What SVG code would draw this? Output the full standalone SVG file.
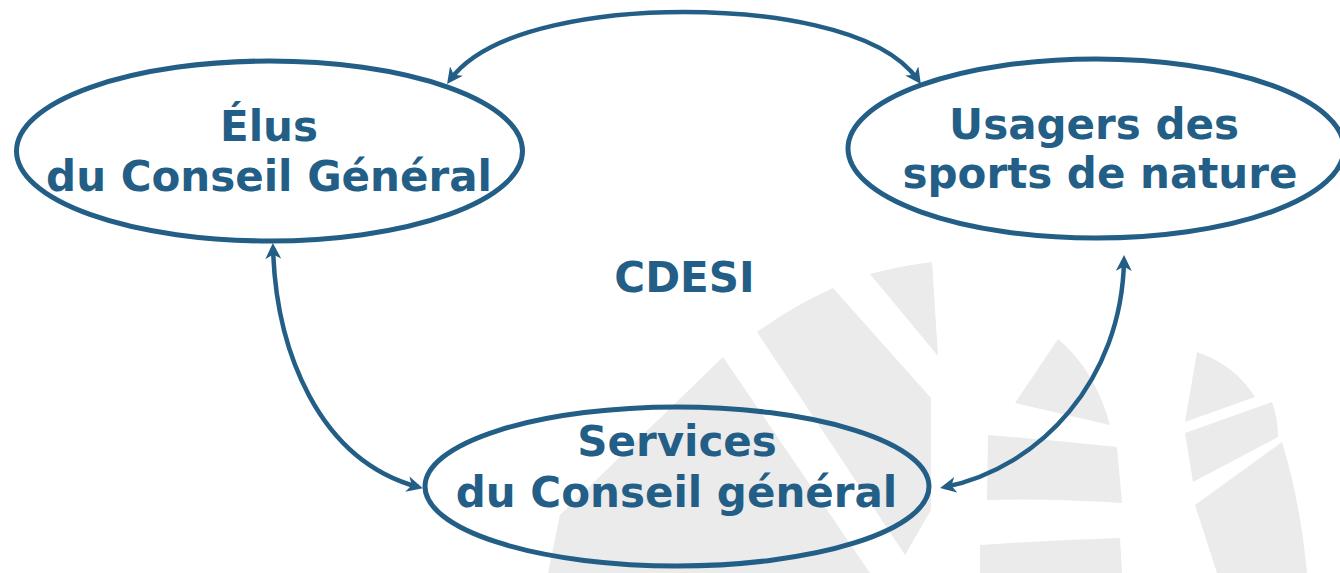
<svg xmlns="http://www.w3.org/2000/svg" width="1340" height="573" viewBox="0 0 1340 573">
<style>
.node ellipse{fill:none;stroke:#225e86;stroke-width:5}
.node text{font-family:"DejaVu Sans",Verdana,sans-serif;font-weight:bold;font-size:42px;fill:#225e86;text-anchor:middle}
.conn path{fill:none;stroke:#225e86;stroke-width:4.5;marker-start:url(#ah);marker-end:url(#ah)}
.wm{fill:#ebebeb;stroke:none}
</style>
<defs>
<marker id="ah" viewBox="0 0 16 16" markerWidth="16" markerHeight="16" refX="11" refY="8" orient="auto-start-reverse" markerUnits="userSpaceOnUse">
<path d="M0,0 L16,8 L0,16 L4.5,8 Z" fill="#225e86"/>
</marker>
</defs>
<rect width="1340" height="573" fill="#ffffff"/>
<g id="watermark">
<path class="wm" d="M870,274 Q900,266 932,262 L938,356 Z"/>
<path class="wm" d="M757,332 Q793,306 833,288 L931,398 L931,510 L905,555 Z"/>
<path class="wm" d="M723,357 L870,573 L548,573 L560,515 Z"/>
<path class="wm" d="M1058,339 Q1095,370 1110,425 L1015,403 Z"/>
<path class="wm" d="M988,435 Q1050,440 1117,447 L1122,503 Q1050,498 987,500 Z"/>
<path class="wm" d="M980,545 Q1050,540 1120,538 L1122,573 L980,573 Z"/>
<path class="wm" d="M1197,352 Q1235,365 1255,397 L1185,422 Z"/>
<path class="wm" d="M1185,433 L1272,402 Q1278,418 1278,437 L1193,482 Z"/>
<path class="wm" d="M1195,505 L1282,442 Q1300,500 1307,573 L1217,573 Z"/>
</g>
<g id="connectors" class="conn">
<path d="M450,80 C490,25 610,12 684,12 C760,12 880,25 918,80"/>
<path d="M273,248 C276,350 318,460 418,487"/>
<path d="M1124,260 C1122,380 1040,468 945,487"/>
</g>
<g id="elus" class="node">
<ellipse cx="269.5" cy="151" rx="253" ry="90"/>
<text x="269" y="141">Élus</text>
<text x="269" y="191">du Conseil Général</text>
</g>
<g id="usagers" class="node">
<ellipse cx="1096" cy="148.5" rx="248" ry="89.5"/>
<text x="1094" y="139">Usagers des</text>
<text x="1100" y="188">sports de nature</text>
</g>
<g id="services" class="node">
<ellipse cx="677" cy="486.5" rx="252" ry="79.5"/>
<text x="677" y="456">Services</text>
<text x="676.5" y="507">du Conseil général</text>
</g>
<g id="cdesi" class="node">
<text x="684.5" y="292">CDESI</text>
</g>
</svg>
